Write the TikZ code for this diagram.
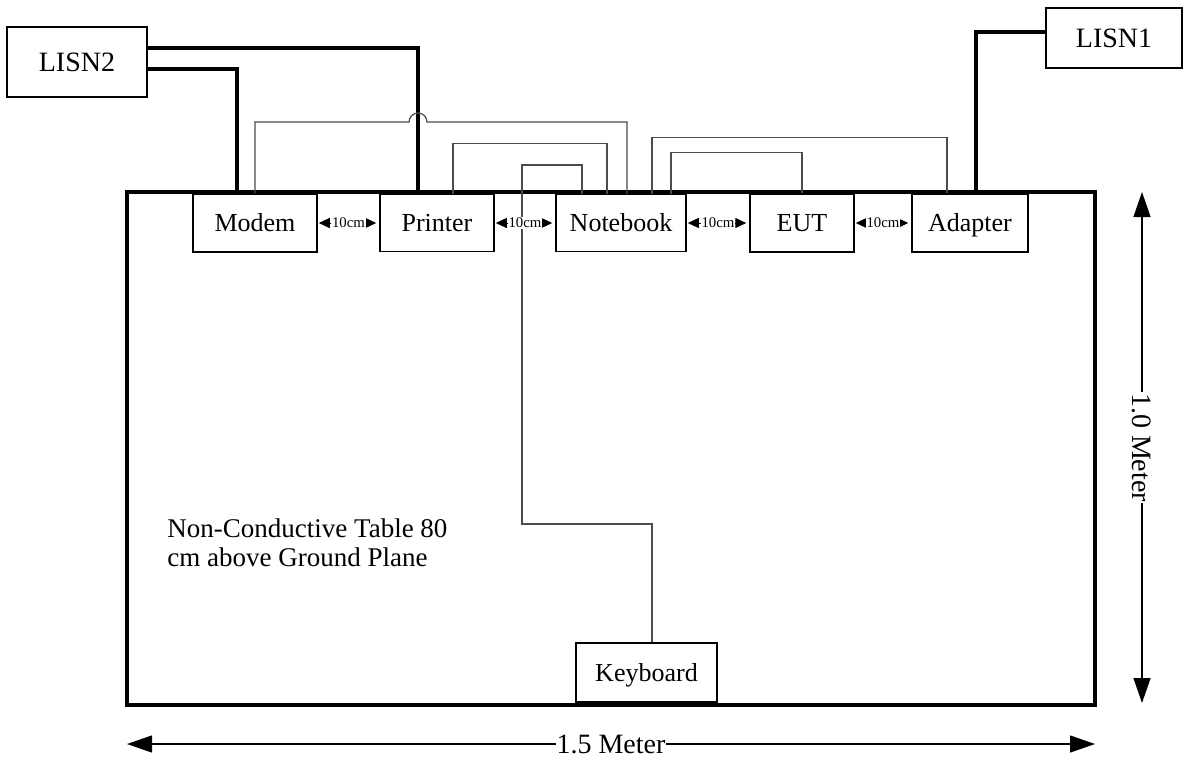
\documentclass[tikz,border=0pt]{standalone}
\usepackage{fontspec}
\setmainfont{Liberation Serif}
\usepackage{tikz}
\usetikzlibrary{arrows.meta,positioning}

\begin{document}
\begin{tikzpicture}[
      x=0.5pt, y=-0.5pt,
      box/.style = {draw, line width=0.75pt, inner sep=0pt,
                    text height=8.6pt, text depth=0pt,
                    font=\fontsize{13}{15}\selectfont},
      lisn/.style = {box, text height=9.2pt, font=\fontsize{14}{16}\selectfont},
      tablebox/.style = {draw, line width=2pt, outer sep=0pt, inner sep=0pt},
      power/.style = {line width=2pt},
      signal/.style = {black!70, line width=0.6pt},
      gap/.style = {{Triangle[length=5.5pt,width=5pt]}-{Triangle[length=5.5pt,width=5pt]},
                    line width=0.5pt, shorten <=0.5pt, shorten >=1.5pt},
      gaplabel/.style = {fill=white, inner sep=0.3pt, font=\fontsize{7.4}{8}\selectfont},
      dim/.style = {{Triangle[length=12.5pt,width=8.5pt]}-{Triangle[length=12.5pt,width=8.5pt]},
                    line width=0.6pt},
      dimlabel/.style = {fill=white, inner sep=0.5pt, font=\fontsize{14}{16}\selectfont},
      note/.style = {align=left, inner sep=0pt, font=\fontsize{13.5}{14.5}\selectfont}
    ]
    \useasboundingbox (0,0) rectangle (1184,761);

    \node[tablebox, minimum width=484pt, minimum height=256.5pt] (table) at (611,448.5) {};

    \node[lisn, minimum width=70pt, minimum height=35pt] (lisn2) at (77,62)   {LISN2};
    \node[lisn, minimum width=68pt, minimum height=30pt] (lisn1) at (1114,38) {LISN1};

    \node[box, minimum width=62pt, minimum height=29pt]   (modem) at (255,223) {Modem};
    \node[box, minimum width=57pt, minimum height=28.5pt] (printer)  [right=30.75pt of modem]  {Printer};
    \node[box, minimum width=65pt, minimum height=28.5pt] (notebook) [right=30.25pt of printer] {Notebook};
    \node[box, minimum width=52pt, minimum height=29pt]   (eut)      [right=31.25pt of notebook] {EUT};
    \node[box, minimum width=58pt, minimum height=29pt]   (adapter)  [right=28.25pt of eut]     {Adapter};
    \node[box, minimum width=70.5pt, minimum height=29.5pt] (keyboard) at (646.5,672.5) {Keyboard};

    \node[note, anchor=north west] (note) at (167,518) {Non-Conductive Table 80\\cm above Ground Plane};

    \draw[power] ([yshift=7pt]lisn2.east)    -| ([xshift=-9.5pt]printer.north);
    \draw[power] ([yshift=-3.5pt]lisn2.east) -| ([xshift=-9pt]modem.north);
    \draw[power] ([yshift=3pt]lisn1.west)    -| ([xshift=3pt]adapter.north);

    \draw[signal] (modem.north) |- (409,122) arc[start angle=180, end angle=0, radius=4.5pt]
                  -| ([xshift=3pt]notebook.north);
    \draw[signal] ([xshift=8pt]printer.north) -- ++(0,-50) -| ([xshift=-7pt]notebook.north);
    \draw[signal] ([xshift=-19.5pt]notebook.north) |- (522,165) |- (652,524)
                  -- ([xshift=2.75pt]keyboard.north);
    \draw[signal] ([xshift=15.5pt]notebook.north) -- ++(0,-56) -| ([xshift=-11.5pt]adapter.north);
    \draw[signal] ([xshift=25pt]notebook.north) -- ++(0,-41) -| (eut.north);

    \draw[gap] (modem.east)    -- node[gaplabel] {10cm} (printer.west);
    \draw[gap] (printer.east)  -- node[gaplabel] {10cm} (notebook.west);
    \draw[gap] (notebook.east) -- node[gaplabel] {10cm} (eut.west);
    \draw[gap] (eut.east)      -- node[gaplabel] {10cm} (adapter.west);

    \draw[dim] ([xshift=23.5pt]table.north east) -- node[dimlabel, rotate=-90] {1.0 Meter}
               ([xshift=23.5pt, yshift=1pt]table.south east);
    \draw[dim] ([yshift=-19.5pt]table.south west) -- node[dimlabel] {1.5 Meter}
               ([yshift=-19.5pt]table.south east);
  \end{tikzpicture}
\end{document}
